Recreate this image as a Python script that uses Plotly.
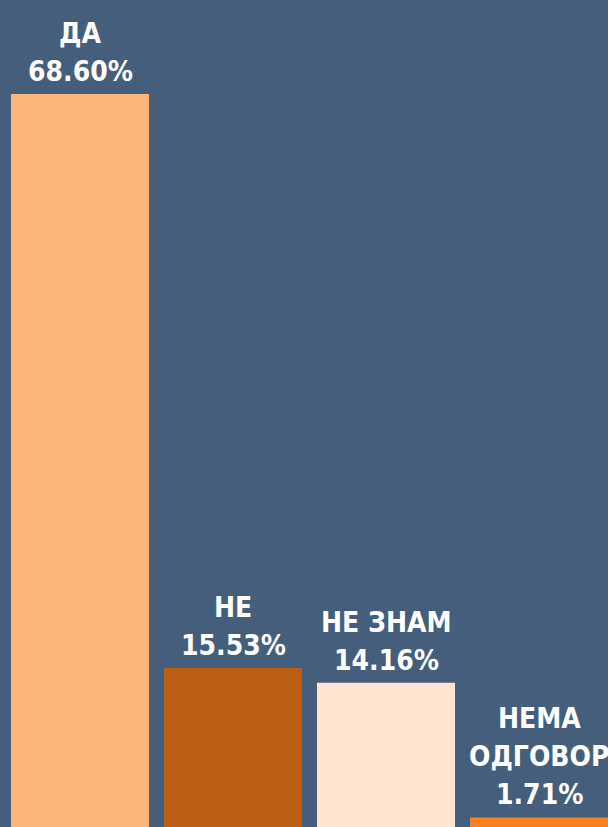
import plotly.graph_objects as go

categories = ["ДА", "НЕ", "НЕ ЗНАМ", "НЕМА ОДГОВОР"]
label_lines = [["ДА"], ["НЕ"], ["НЕ ЗНАМ"], ["НЕМА", "ОДГОВОР"]]
values = [68.60, 15.53, 14.16, 1.71]
value_labels = ["68.60%", "15.53%", "14.16%", "1.71%"]
colors = ["#FDB57A", "#BD5E14", "#FFE4D2", "#FC801E"]

BG = "#445E7C"
FONT = "DejaVu Sans Condensed, Liberation Sans Narrow, sans-serif"
FS = 28
LINE = 38

fig = go.Figure(go.Bar(
    x=list(range(len(categories))),
    y=values,
    marker=dict(color=colors, line=dict(width=0)),
    hoverinfo="skip",
))

annotations = []
for i, (lines, v, vl) in enumerate(zip(label_lines, values, value_labels)):
    all_lines = lines + [vl]
    n = len(all_lines)
    for j, t in enumerate(all_lines):
        k = n - 1 - j
        annotations.append(dict(
            x=i, y=v, xref="x", yref="y", text=t, showarrow=False,
            xanchor="center", yanchor="bottom", yshift=4 + k * LINE,
            font=dict(family=FONT, size=FS, color="white", weight="bold"),
        ))

fig.update_layout(
    width=608, height=827,
    margin=dict(l=0, r=0, t=0, b=0),
    paper_bgcolor=BG, plot_bgcolor=BG,
    bargap=0.098,
    showlegend=False,
    annotations=annotations,
    xaxis=dict(range=[-0.5229, 3.451], visible=False, fixedrange=True),
    yaxis=dict(range=[0.83, 77.3], visible=False, fixedrange=True),
)

fig.write_html(
    "out.html",
    config={"displayModeBar": False},
    post_script="document.body.style.margin='0';document.body.style.overflow='hidden';",
)
